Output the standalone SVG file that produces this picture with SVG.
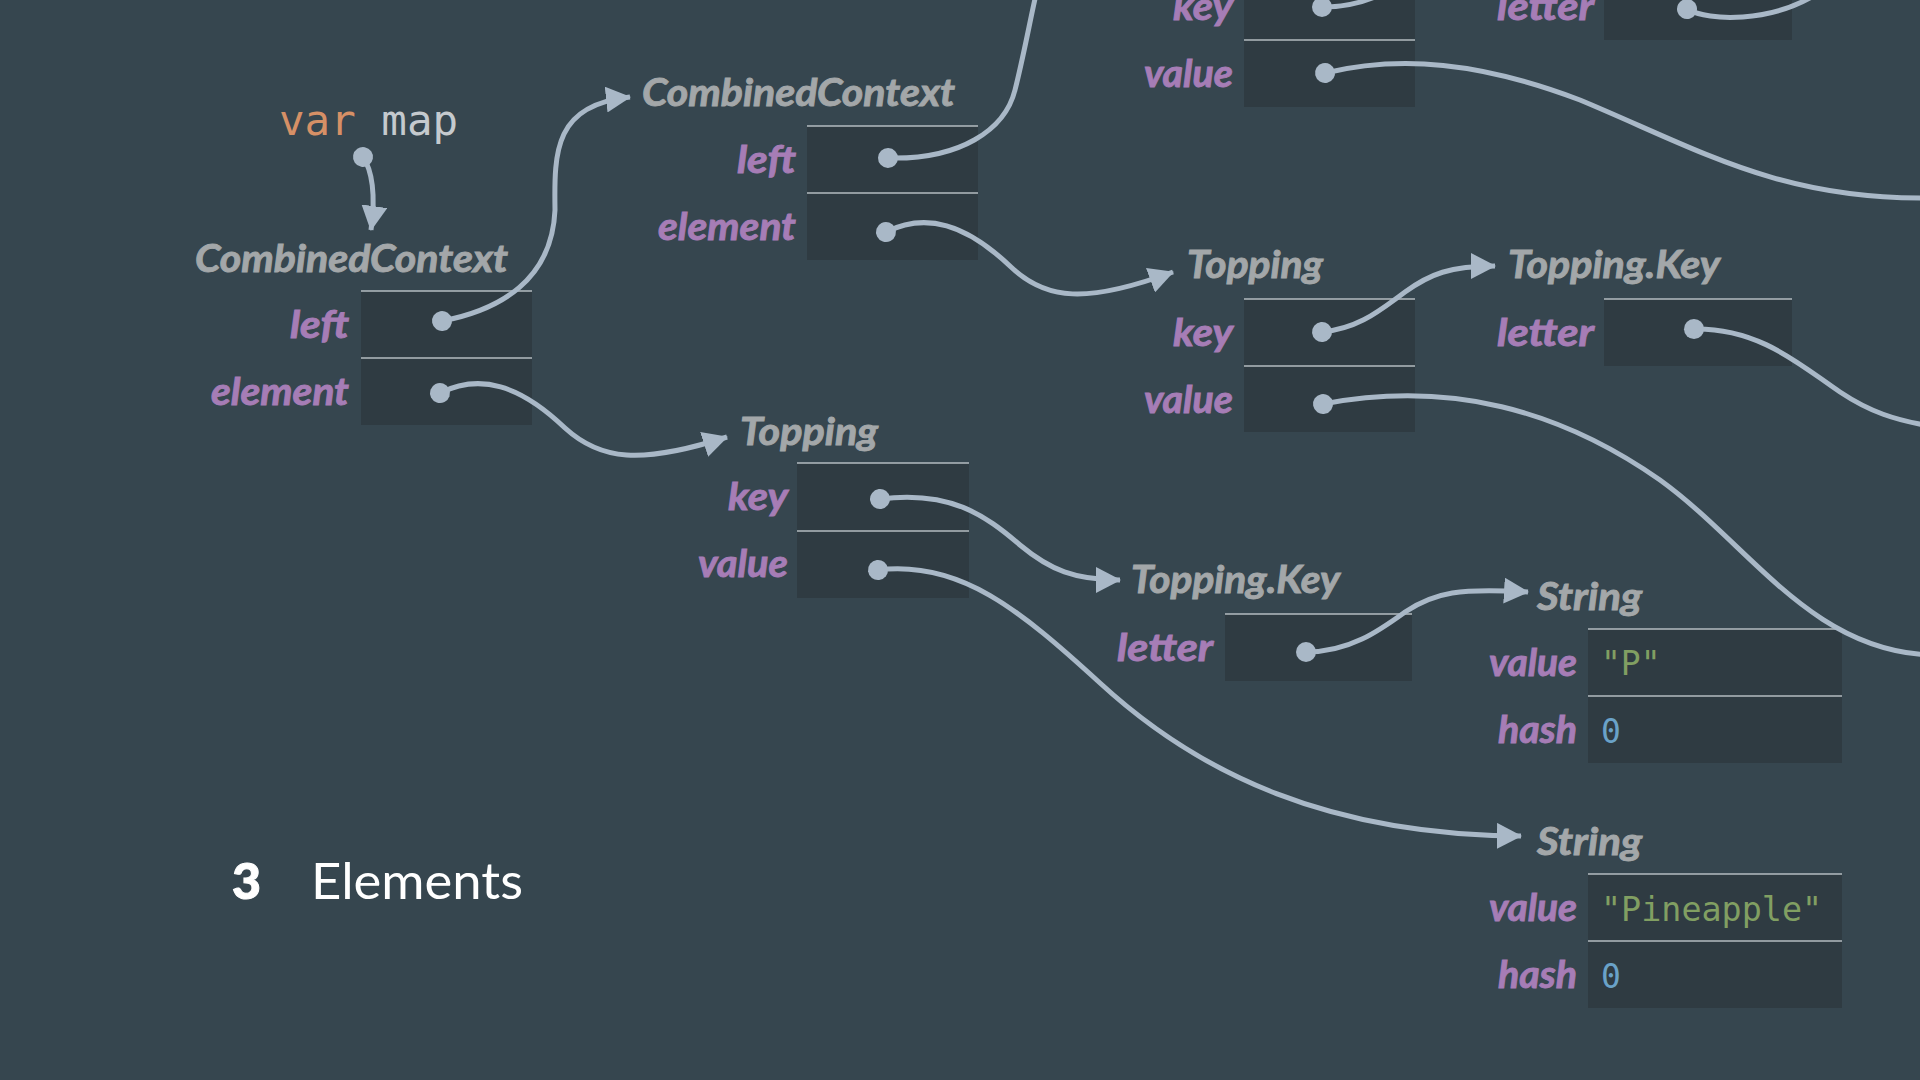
<svg xmlns="http://www.w3.org/2000/svg" width="1920" height="1080" viewBox="0 0 1920 1080">
<defs>
<style>
.title{font-family:Lato,"Open Sans",sans-serif;font-style:italic;font-weight:700;font-size:38px;fill:#a3a7a9;stroke:#a3a7a9;stroke-width:0.9px}
.lbl{font-family:Lato,"Open Sans",sans-serif;font-style:italic;font-weight:700;font-size:38px;fill:#a67db6;stroke:#a67db6;stroke-width:0.9px;text-anchor:end}
.box{fill:#2f3b42}
.sep{stroke:#b4bcc0;stroke-width:1.5}
.mono{font-family:"DejaVu Sans Mono","Liberation Mono",monospace}
.conn{fill:none;stroke:#a9b8c7;stroke-width:5;marker-start:url(#dot)}
.arr{marker-end:url(#head)}
</style>
<marker id="dot" markerUnits="userSpaceOnUse" viewBox="-11 -11 22 22" refX="0" refY="0" markerWidth="22" markerHeight="22" orient="auto">
<circle cx="0" cy="0" r="10" fill="#a9b8c7"/>
</marker>
<marker id="head" markerUnits="userSpaceOnUse" viewBox="0 0 26 26" refX="24" refY="13" markerWidth="26" markerHeight="26" orient="auto">
<path d="M0,0 L25,13 L0,26 Z" fill="#a9b8c7"/>
</marker>
</defs>
<rect x="0" y="0" width="1920" height="1080" fill="#36464f"/>

<g id="var-map">
<text class="mono" x="279" y="135" font-size="42.5"><tspan fill="#d69066">var</tspan><tspan fill="#c5cace"> map</tspan></text>
</g>

<g id="node-a">
<text class="title" x="195" y="272" textLength="313" lengthAdjust="spacingAndGlyphs">CombinedContext</text>
<rect class="box" x="361" y="291" width="171" height="134"/>
<line class="sep" x1="361" y1="291" x2="532" y2="291"/>
<line class="sep" x1="361" y1="358" x2="532" y2="358"/>
<text class="lbl" x="349" y="338" textLength="59" lengthAdjust="spacingAndGlyphs">left</text>
<text class="lbl" x="349" y="405" textLength="138" lengthAdjust="spacingAndGlyphs">element</text>
</g>

<g id="node-b">
<text class="title" x="642" y="106" textLength="313" lengthAdjust="spacingAndGlyphs">CombinedContext</text>
<rect class="box" x="807" y="126" width="171" height="134"/>
<line class="sep" x1="807" y1="126" x2="978" y2="126"/>
<line class="sep" x1="807" y1="193" x2="978" y2="193"/>
<text class="lbl" x="796" y="173" textLength="59" lengthAdjust="spacingAndGlyphs">left</text>
<text class="lbl" x="796" y="240" textLength="138" lengthAdjust="spacingAndGlyphs">element</text>
</g>

<g id="node-c">
<text class="title" x="740" y="445" textLength="138" lengthAdjust="spacingAndGlyphs">Topping</text>
<rect class="box" x="797" y="463" width="172" height="135"/>
<line class="sep" x1="797" y1="463" x2="969" y2="463"/>
<line class="sep" x1="797" y1="531" x2="969" y2="531"/>
<text class="lbl" x="788" y="510" textLength="60" lengthAdjust="spacingAndGlyphs">key</text>
<text class="lbl" x="788" y="577" textLength="90" lengthAdjust="spacingAndGlyphs">value</text>
</g>

<g id="node-d">
<rect class="box" x="1244" y="-27" width="171" height="134"/>
<line class="sep" x1="1244" y1="40" x2="1415" y2="40"/>
<text class="lbl" x="1233" y="20" textLength="60" lengthAdjust="spacingAndGlyphs">key</text>
<text class="lbl" x="1233" y="87" textLength="89" lengthAdjust="spacingAndGlyphs">value</text>
</g>

<g id="node-e">
<rect class="box" x="1604" y="-27" width="188" height="67"/>
<text class="lbl" x="1594" y="20" textLength="97" lengthAdjust="spacingAndGlyphs">letter</text>
</g>

<g id="node-f">
<text class="title" x="1187" y="278" textLength="136" lengthAdjust="spacingAndGlyphs">Topping</text>
<rect class="box" x="1244" y="299" width="171" height="133"/>
<line class="sep" x1="1244" y1="299" x2="1415" y2="299"/>
<line class="sep" x1="1244" y1="366" x2="1415" y2="366"/>
<text class="lbl" x="1233" y="346" textLength="60" lengthAdjust="spacingAndGlyphs">key</text>
<text class="lbl" x="1233" y="413" textLength="89" lengthAdjust="spacingAndGlyphs">value</text>
</g>

<g id="node-g">
<text class="title" x="1508" y="278" textLength="212" lengthAdjust="spacingAndGlyphs">Topping.Key</text>
<rect class="box" x="1604" y="299" width="188" height="67"/>
<line class="sep" x1="1604" y1="299" x2="1792" y2="299"/>
<text class="lbl" x="1594" y="346" textLength="97" lengthAdjust="spacingAndGlyphs">letter</text>
</g>

<g id="node-h">
<text class="title" x="1131" y="593" textLength="209" lengthAdjust="spacingAndGlyphs">Topping.Key</text>
<rect class="box" x="1225" y="614" width="187" height="67"/>
<line class="sep" x1="1225" y1="614" x2="1412" y2="614"/>
<text class="lbl" x="1213" y="661" textLength="96" lengthAdjust="spacingAndGlyphs">letter</text>
</g>

<g id="node-i">
<text class="title" x="1537" y="610" textLength="105" lengthAdjust="spacingAndGlyphs">String</text>
<rect class="box" x="1588" y="629" width="254" height="134"/>
<line class="sep" x1="1588" y1="629" x2="1842" y2="629"/>
<line class="sep" x1="1588" y1="696" x2="1842" y2="696"/>
<text class="lbl" x="1577" y="676" textLength="88" lengthAdjust="spacingAndGlyphs">value</text>
<text class="lbl" x="1577" y="743" textLength="79" lengthAdjust="spacingAndGlyphs">hash</text>
<text class="mono" x="1601" y="675" font-size="33" fill="#819f62">"P"</text>
<text class="mono" x="1601" y="743" font-size="33" fill="#6aa2c8">0</text>
</g>

<g id="node-j">
<text class="title" x="1537" y="855" textLength="105" lengthAdjust="spacingAndGlyphs">String</text>
<rect class="box" x="1588" y="874" width="254" height="134"/>
<line class="sep" x1="1588" y1="874" x2="1842" y2="874"/>
<line class="sep" x1="1588" y1="941" x2="1842" y2="941"/>
<text class="lbl" x="1577" y="921" textLength="88" lengthAdjust="spacingAndGlyphs">value</text>
<text class="lbl" x="1577" y="988" textLength="79" lengthAdjust="spacingAndGlyphs">hash</text>
<text class="mono" x="1601" y="921" font-size="33.4" fill="#819f62">"Pineapple"</text>
<text class="mono" x="1601" y="988" font-size="33" fill="#6aa2c8">0</text>
</g>

<g id="caption">
<text x="232" y="899" font-family="Lato,'Open Sans',sans-serif" font-weight="900" font-size="50" fill="#ffffff" stroke="#ffffff" stroke-width="1">3</text>
<text x="311" y="899" font-family="Lato,'Open Sans',sans-serif" font-weight="400" font-size="50" fill="#ffffff" textLength="212" lengthAdjust="spacingAndGlyphs">Elements</text>
</g>

<g id="connectors">
<path class="conn arr" d="M363,157 C372,170 376,195 371,230"/>
<path class="conn arr" d="M442,321 C500,310 552,280 555,210 C554,150 555,105 630,97"/>
<path class="conn arr" d="M440,393 C480,373 520,385 565,428 C600,460 640,465 727,437"/>
<path class="conn" d="M888,158 C960,160 1005,130 1015,90 C1025,50 1030,20 1037,-10"/>
<path class="conn arr" d="M886,232 C926,212 966,224 1011,267 C1046,300 1086,304 1173,272"/>
<path class="conn arr" d="M880,499 C950,490 985,515 1020,545 C1050,570 1075,580 1120,580"/>
<path class="conn arr" d="M878,570 C960,560 1020,610 1100,683 C1200,775 1330,835 1521,836"/>
<path class="conn" d="M1322,7 C1345,7 1365,3 1385,-8"/>
<path class="conn" d="M1325,73 C1400,55 1480,62 1580,100 C1700,150 1780,200 1930,198"/>
<path class="conn" d="M1687,9 C1710,22 1770,22 1815,-5"/>
<path class="conn arr" d="M1322,332 C1360,328 1380,310 1405,292 C1430,274 1450,266 1495,266"/>
<path class="conn" d="M1694,329 C1760,328 1800,365 1840,392 C1870,412 1895,420 1930,426"/>
<path class="conn" d="M1323,404 C1450,380 1560,410 1660,480 C1750,545 1810,650 1930,655"/>
<path class="conn arr" d="M1306,652 C1350,652 1380,630 1405,612 C1435,592 1460,588 1528,592"/>
</g>
</svg>
